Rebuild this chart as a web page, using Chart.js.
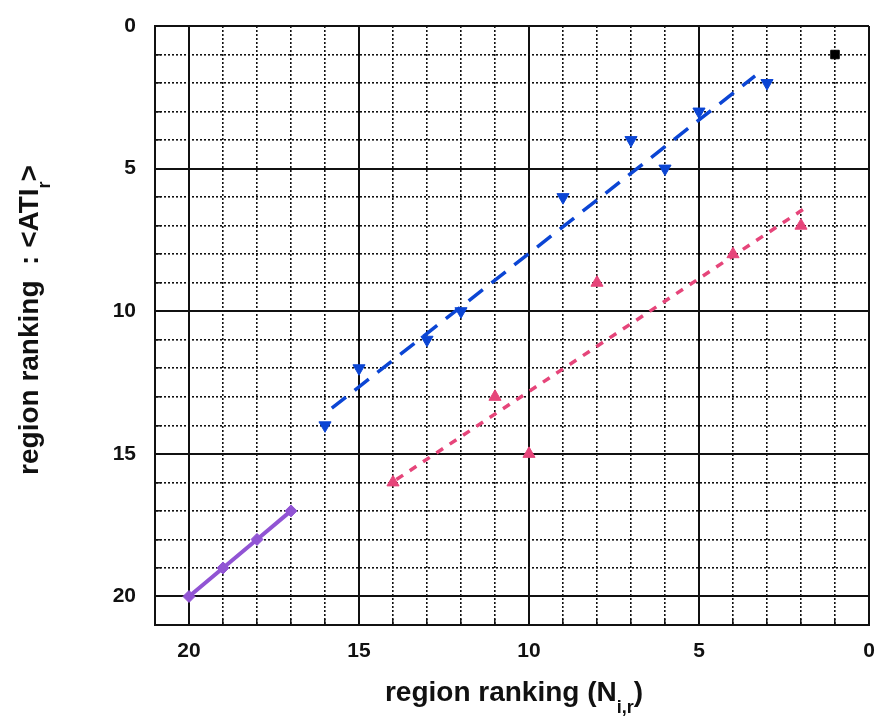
<!DOCTYPE html>
<html>
<head>
<meta charset="utf-8">
<script src="https://cdn.jsdelivr.net/npm/chart.js@4.4.1/dist/chart.umd.min.js"></script>
<style>
body { margin: 0; background: #fff; }
#chart { display: block; }
</style>
</head>
<body>
<canvas id="chart" width="880" height="720"></canvas>
<script>
// values (rank 1 = best)
const blackX = [1];
const blackY = [1];
const blueX = [16, 15, 13, 12, 9, 7, 6, 5, 3];
const blueY = [14, 12, 11, 10, 6, 4, 5, 3, 2];
const blueFitX = [15.8, 3.35];
const blueFitY = [13.4, 1.75];
const pinkX = [14, 11, 10, 8, 4, 2];
const pinkY = [16, 13, 15, 9, 8, 7];
const pinkFitX = [13.9, 1.9];
const pinkFitY = [15.9, 6.4];
const purpleX = [20, 19, 18, 17];
const purpleY = [20, 19, 18, 17];
const tickLabels = [0, 5, 10, 15, 20];
const axisMax = 21;

const FONT = "'Liberation Sans', Arial, sans-serif";
const BLUE = '#0b45d4';
const PINK = '#e6457a';
const PURPLE = '#9154d4';

const toPts = (xs, ys) => xs.map((x, i) => ({x: x, y: ys[i]}));

//#####################
// grid helpers
//#####################
const isMajor = (ctx) => ctx.tick && (tickLabels.includes(ctx.tick.value) || ctx.tick.value === axisMax);

// fixed axis box, no label overhang padding
const fixBox = (s, size) => {
    if (s.isHorizontal()) { s.height = size; } else { s.width = size; }
    s.paddingTop = 0;
    s.paddingBottom = 0;
    s.paddingLeft = 0;
    s.paddingRight = 0;
};

const makeScale = (extra) => Object.assign({
    type: 'linear',
    min: 0,
    max: axisMax,
    reverse: true,
    grid: {
        color: '#111',
        lineWidth: (ctx) => isMajor(ctx) ? 2 : 1.6,
        drawTicks: true,
        tickLength: -6,
        tickColor: '#111',
        tickWidth: 1.5,
        tickBorderDash: []
    },
    border: {
        display: true,
        color: '#111',
        width: 2,
        dash: (ctx) => (ctx.tick && !isMajor(ctx)) ? [2, 2] : []
    },
    ticks: {
        stepSize: 1,
        autoSkip: false,
        maxRotation: 0,
        color: '#111',
        font: {family: FONT, size: 21, weight: 'bold'},
        callback: (v) => tickLabels.includes(v) ? String(v) : ''
    }
}, extra);

//#####################
// axis titles with subscripts
//#####################
const drawSubText = (ctx, parts, x, y) => {
    // parts: [text, isSub]
    const widths = parts.map(p => {
        ctx.font = `bold ${p[1] ? 18 : 28}px ${FONT}`;
        return ctx.measureText(p[0]).width;
    });
    let cx = x - widths.reduce((a, b) => a + b, 0) / 2;
    parts.forEach((p, i) => {
        ctx.font = `bold ${p[1] ? 18 : 28}px ${FONT}`;
        ctx.fillText(p[0], cx, p[1] ? y + 12 : y);
        cx += widths[i];
    });
};

const titlePlugin = {
    id: 'axisTitles',
    afterDraw(chart) {
        const ctx = chart.ctx;
        const area = chart.chartArea;
        ctx.save();
        ctx.fillStyle = '#111';
        ctx.textBaseline = 'alphabetic';
        ctx.textAlign = 'left';
        drawSubText(ctx, [['region ranking (N', false], ['i,r', true], [')', false]], (area.left + area.right) / 2 + 2, 701);
        ctx.translate(38, 320);
        ctx.rotate(-Math.PI / 2);
        drawSubText(ctx, [['region ranking  : <ATI', false], ['r', true], ['>', false]], 0, 0);
        ctx.restore();
    }
};

//#####################
// chart
//#####################
const chartCanvas = document.getElementById('chart');

const myChart = new Chart(chartCanvas, {
    type: 'scatter',
    data: {
        datasets: [
            {
                data: toPts(blueFitX, blueFitY),
                showLine: true,
                borderColor: BLUE,
                borderWidth: 3.5,
                borderDash: [18, 11],
                pointRadius: 0
            },
            {
                data: toPts(pinkFitX, pinkFitY),
                showLine: true,
                borderColor: PINK,
                borderWidth: 3.5,
                borderDash: [8, 8],
                pointRadius: 0
            },
            {
                data: toPts(purpleX, purpleY),
                showLine: true,
                borderColor: PURPLE,
                backgroundColor: PURPLE,
                borderWidth: 4,
                pointStyle: 'rectRot',
                pointRadius: 6,
                pointBorderWidth: 1
            },
            {
                data: toPts(blueX, blueY),
                backgroundColor: BLUE,
                borderColor: BLUE,
                pointStyle: 'triangle',
                rotation: 180,
                pointRadius: 7,
                pointBorderWidth: 1
            },
            {
                data: toPts(pinkX, pinkY),
                backgroundColor: PINK,
                borderColor: PINK,
                pointStyle: 'triangle',
                pointRadius: 7,
                pointBorderWidth: 1
            },
            {
                data: toPts(blackX, blackY),
                backgroundColor: '#000',
                borderColor: '#000',
                pointStyle: 'rect',
                pointRadius: 6,
                pointBorderWidth: 1
            }
        ]
    },
    options: {
        responsive: false,
        animation: false,
        devicePixelRatio: 1,
        layout: {padding: {left: 0, top: 26, right: 11, bottom: 0}},
        plugins: {
            legend: {display: false},
            tooltip: {enabled: false}
        },
        scales: {
            x: makeScale({
                position: 'bottom',
                afterFit: (s) => fixBox(s, 95)
            }),
            y: makeScale({
                position: 'left',
                afterFit: (s) => fixBox(s, 155)
            })
        }
    },
    plugins: [titlePlugin]
});
myChart.options.scales.x.ticks.padding = 20;
myChart.options.scales.y.ticks.padding = 25;
myChart.update();
</script>
</body>
</html>
